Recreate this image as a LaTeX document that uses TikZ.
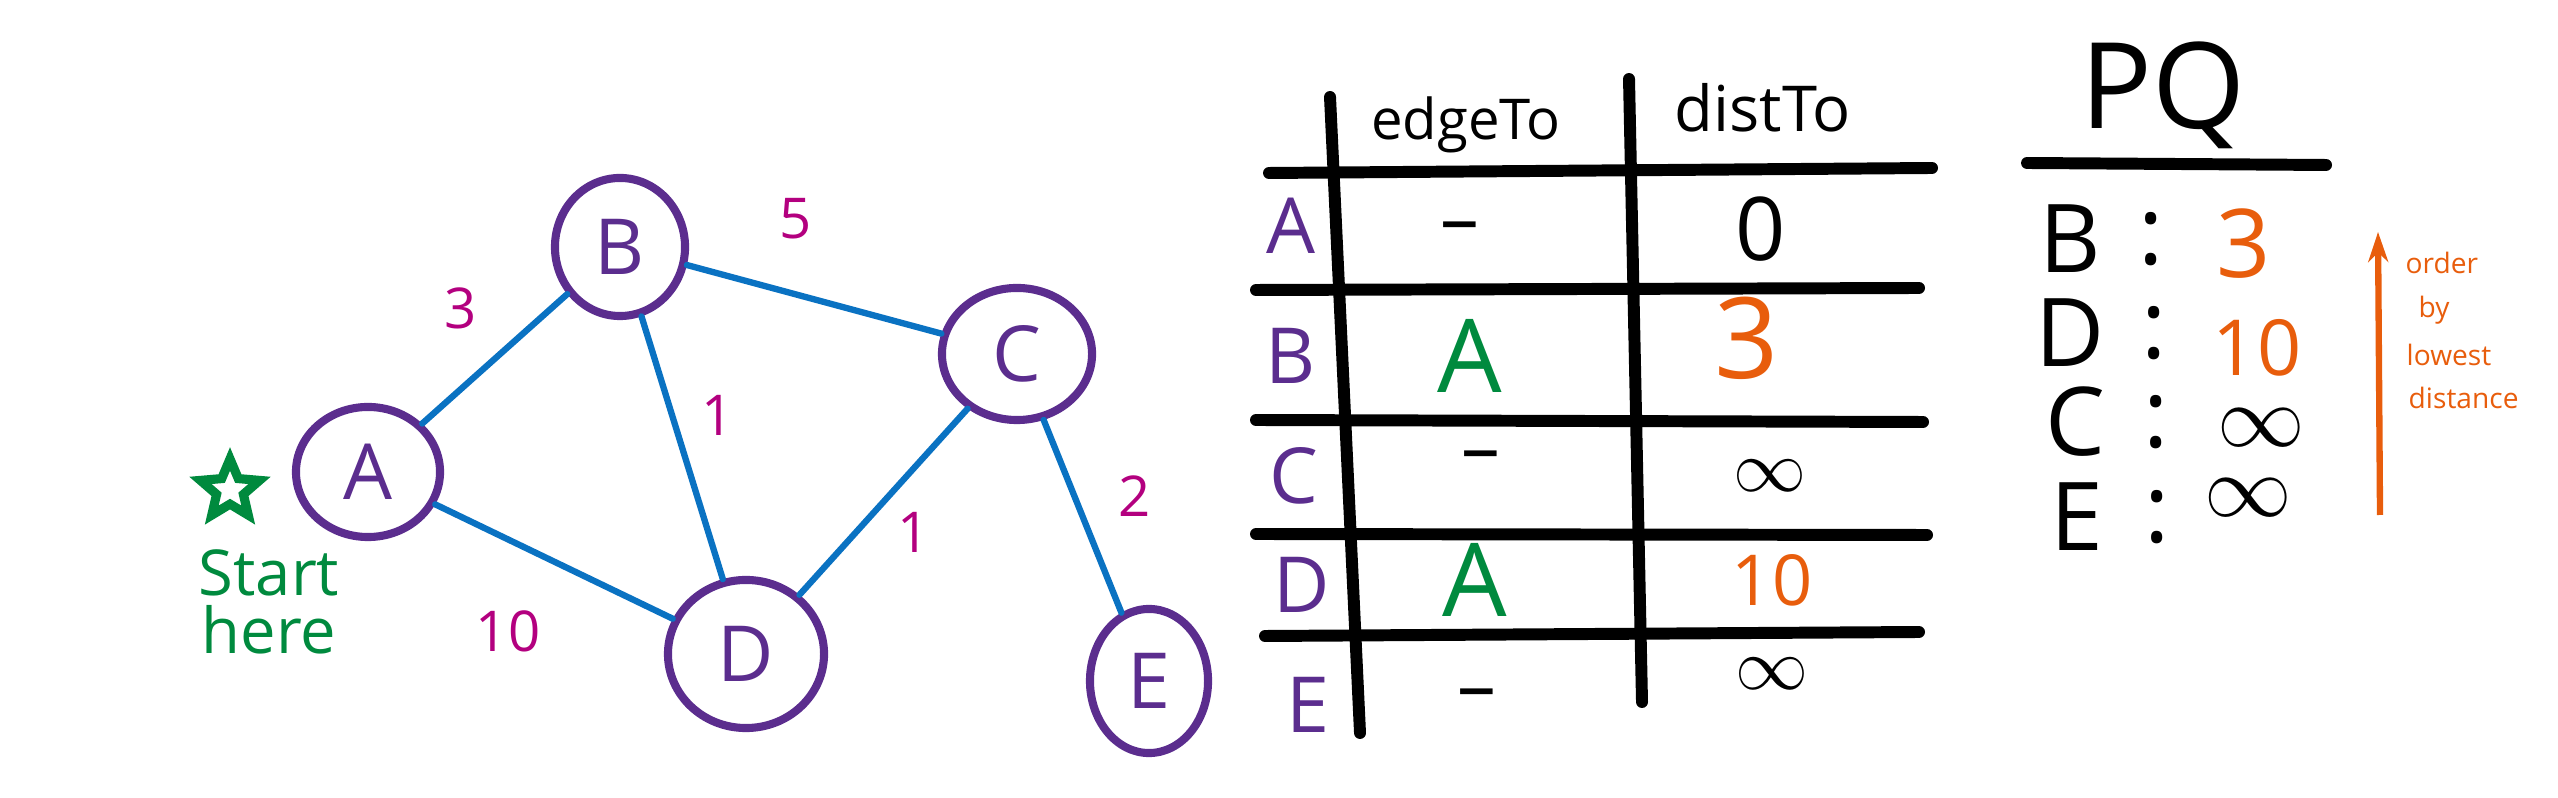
\documentclass[tikz,border=0pt]{standalone}
\usepackage{xcolor}
\usepackage{fontspec}
\setmainfont{Open Sans}
\usetikzlibrary{shapes.geometric,arrows.meta}

\definecolor{nodepurple}{HTML}{5B2D8E}
\definecolor{edgeblue}{HTML}{0A72C2}
\definecolor{weightpink}{HTML}{B3007F}
\definecolor{startgreen}{HTML}{008A3E}
\definecolor{pqorange}{HTML}{E85D0C}

\tikzset{
  vertex/.style={draw=nodepurple, text=nodepurple, ellipse, line width=2.3pt, inner sep=0pt,
    font=\fontsize{22}{26}\selectfont},
  edge/.style={draw=edgeblue, line width=1.8pt, line cap=round},
  weight/.style={text=weightpink, font=\fontsize{16}{19}\selectfont},
  rule/.style={line width=3.4pt, line cap=round},
  rowname/.style={text=nodepurple, font=\fontsize{22}{26}\selectfont},
  cell/.style={font=\fontsize{22}{26}\selectfont},
  pqentry/.style={font=\fontsize{27}{30}\selectfont, inner sep=0pt},
  infinity/.style={font=\fontsize{#1}{#1}\selectfont, inner sep=0pt},
  note/.style={text=pqorange, font=\fontsize{8}{9}\selectfont, inner sep=0pt, anchor=west}
}

\begin{document}
\begin{tikzpicture}[x=0.01cm, y=-0.01cm]
        \useasboundingbox (0,0) rectangle (2558,798);

        % Graph
        \node[vertex, minimum width=1.44cm, minimum height=1.30cm] (A) at (368,472) {A};
        \node[vertex, minimum width=1.30cm, minimum height=1.38cm] (B) at (620,247) {B};
        \node[vertex, minimum width=1.50cm, minimum height=1.32cm] (C) at (1017,354) {C};
        \node[vertex, minimum width=1.56cm, minimum height=1.48cm] (D) at (746,654) {D};
        \node[vertex, minimum width=1.18cm, minimum height=1.44cm] (E) at (1149,681) {E};

        \draw[edge] (A) -- (B);
        \draw[edge] (B) -- (C);
        \draw[edge] (B) -- (D);
        \draw[edge] (A) -- (D);
        \draw[edge] (C) -- (D);
        \draw[edge] (C) -- (E);

        % Weights
        \node[weight] (wAB) at (461,308) {3};
        \node[weight] (wBC) at (796,219) {5};
        \node[weight] (wBD) at (718,415) {1};
        \node[weight] (wCD) at (914,532) {1};
        \node[weight] (wCE) at (1135,496) {2};
        \node[weight] (wAD) at (508,631) {10};

        % Start marker
        \node[star, star points=5, star point ratio=2.2, draw=startgreen, line width=2.6pt,
              minimum size=0.62cm, inner sep=0pt] (startstar) at (230,490) {};
        \node[text=startgreen, font=\fontsize{18}{20}\selectfont, inner sep=0pt] (startword) at (269,573) {Start};
        \node[text=startgreen, font=\fontsize{18}{20}\selectfont, inner sep=0pt] (hereword) at (269,630) {here};

        % Table
        \draw[rule] (1330,97) -- (1360,733);
        \draw[rule] (1629,79) -- (1642,702);
        \draw[rule] (1269,173) -- (1932,168);
        \draw[rule] (1256,290) -- (1919,288);
        \draw[rule] (1256,420) -- (1923,422);
        \draw[rule] (1256,534) -- (1927,535);
        \draw[rule] (1265,636) -- (1919,632);

        \node[font=\fontsize{16}{19}\selectfont] (edgeToHead) at (1466,125) {edgeTo};
        \node[font=\fontsize{18}{21}\selectfont] (distToHead) at (1763,108) {distTo};

        \node[rowname] (rowA) at (1291,226) {A};
        \node[rowname] (rowB) at (1291,356) {B};
        \node[rowname] (rowC) at (1294,476) {C};
        \node[rowname] (rowD) at (1302,585) {D};
        \node[rowname] (rowE) at (1308,705) {E};

        \node[cell] (edgeA) at (1460,234) {--};
        \node[cell, text=startgreen, font=\fontsize{29}{32}\selectfont] (edgeB) at (1470,356) {A};
        \node[cell] (edgeC) at (1481,463) {--};
        \node[cell, text=startgreen, font=\fontsize{29}{32}\selectfont] (edgeD) at (1475,580) {A};
        \node[cell] (edgeE) at (1477,701) {--};

        \node[cell, font=\fontsize{25}{28}\selectfont] (distA) at (1761,229) {0};
        \node[cell, text=pqorange, font=\fontsize{32}{36}\selectfont] (distB) at (1747,338) {3};
        \node[infinity=20] (distC) at (1770,476) {$\infty$};
        \node[cell, text=pqorange, font=\fontsize{20}{24}\selectfont] (distD) at (1772,580) {10};
        \node[infinity=20] (distE) at (1772,674) {$\infty$};

        % Priority queue
        \node[font=\fontsize{34}{38}\selectfont] (pqTitle) at (2163,95) {PQ};
        \draw[rule] (2027,163) -- (2326,165);

        \node[pqentry] (pqB) at (2070,239) {B};
        \node[pqentry] (pqD) at (2070,333) {D};
        \node[pqentry] (pqC) at (2075,422) {C};
        \node[pqentry] (pqE) at (2077,517) {E};

        \node[pqentry] (colB) at (2151,239) {:};
        \node[pqentry] (colD) at (2154,333) {:};
        \node[pqentry] (colC) at (2156,422) {:};
        \node[pqentry] (colE) at (2157,517) {:};

        \node[pqentry, text=pqorange] (valB) at (2244,244) {3};
        \node[pqentry, text=pqorange, font=\fontsize{22}{24}\selectfont] (valD) at (2257,348) {10};
        \node[infinity=23] (valC) at (2261,428) {$\infty$};
        \node[infinity=23] (valE) at (2248,498) {$\infty$};

        % Order arrow
        \coordinate (orderLow) at (2380,515);
        \coordinate (orderTop) at (2378,232);
        \draw[pqorange, line width=1.8pt, -{Stealth[length=0.3cm, width=0.2cm]}] (orderLow) -- (orderTop);
        \node[note] (orderWord) at (2405,263) {order};
        \node[note] (byWord) at (2418,310) {by};
        \node[note] (lowestWord) at (2406,355) {lowest};
        \node[note] (distanceWord) at (2408,398) {distance};
    \end{tikzpicture}
\end{document}
